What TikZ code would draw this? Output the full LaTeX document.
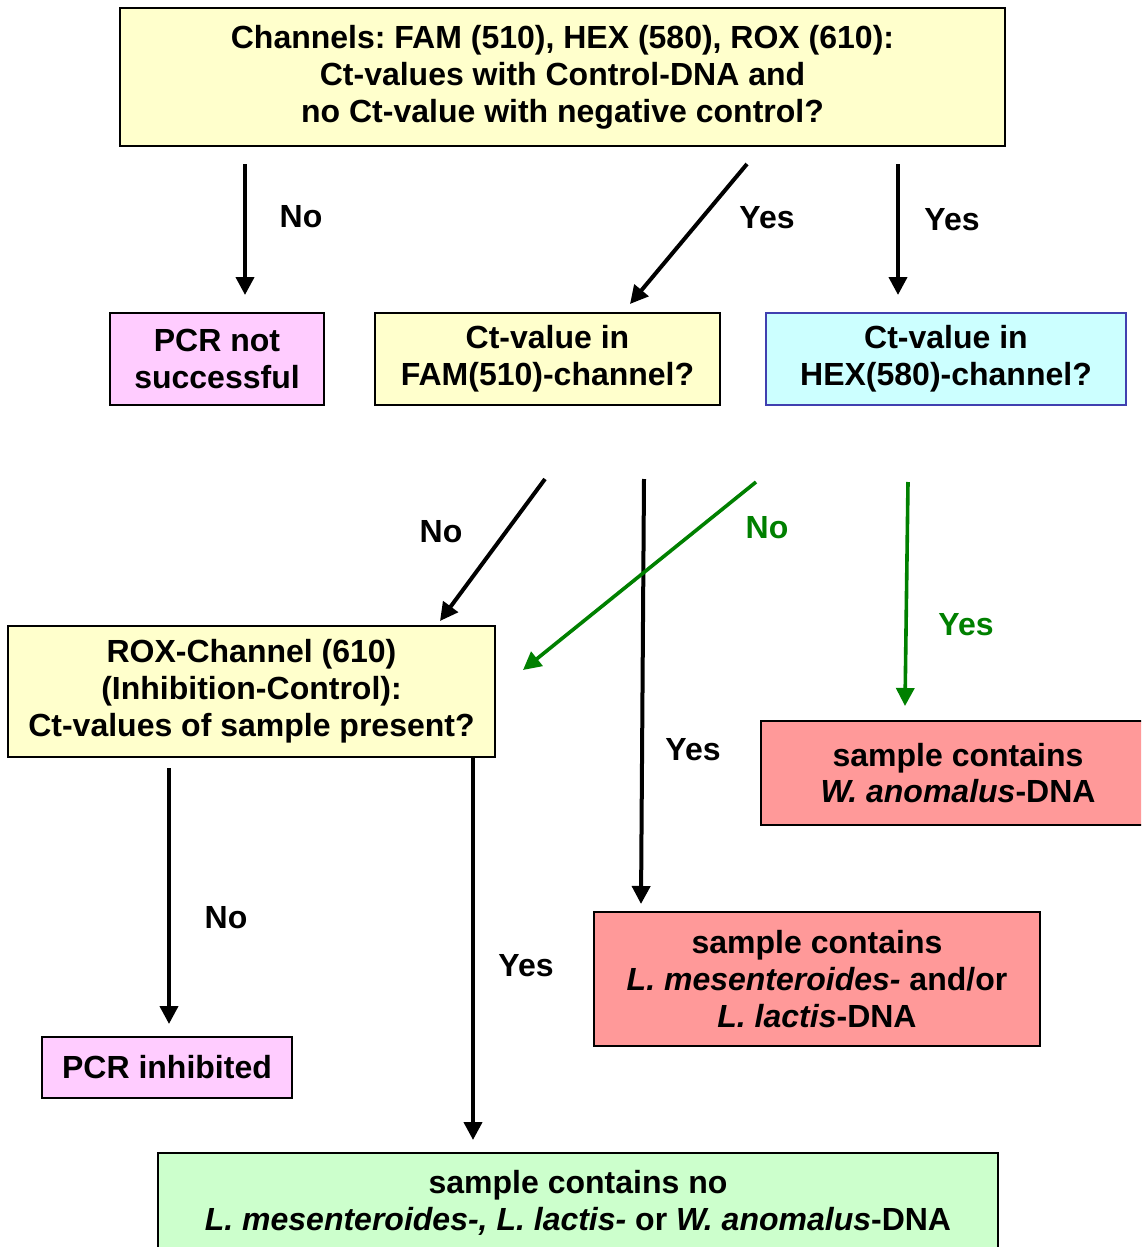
\documentclass[tikz,border=0pt]{standalone}
\usepackage{fontspec}
\setmainfont{Liberation Sans}
\usetikzlibrary{arrows.meta, calc}
\definecolor{paleyellow}{HTML}{FFFFCC}
\definecolor{palepink}{HTML}{FFCCFF}
\definecolor{palecyan}{HTML}{CCFFFF}
\definecolor{salmon}{HTML}{FF9999}
\definecolor{palegreen}{HTML}{CCFFCC}
\definecolor{darkgreen}{HTML}{008000}
\definecolor{hexblue}{HTML}{4040B0}
\frenchspacing

\begin{document}
\begin{tikzpicture}[x=0.5pt, y=-0.5pt,
  every node/.style={font=\fontsize{16pt}{18.4pt}\selectfont\bfseries},
  box/.style={draw, line width=1pt, align=center, inner sep=0pt},
  arr/.style={line width=2pt, -{Triangle[width=9pt,length=9pt]}},
  garr/.style={arr, draw=darkgreen, fill=darkgreen, line width=1.8pt},
  lbl/.style={inner sep=0pt}]
\useasboundingbox (0,0) rectangle (1141,1247);
\clip (0,0) rectangle (1141,1247);
\node[box, fill=paleyellow, minimum width=442.5pt, minimum height=69pt] (query) at (562.5,77) {Channels: FAM (510), HEX (580), ROX (610):\\Ct-values with Control-DNA and\\no Ct-value with negative control?};
\node[box, fill=palepink, minimum width=107pt, minimum height=46pt] (pcr) at (217,359) {PCR not\\successful};
\node[box, fill=paleyellow, minimum width=172.5pt, minimum height=46pt] (fam) at (547.5,359) {Ct-value in\\FAM(510)-channel?};
\node[box, draw=hexblue, fill=palecyan, minimum width=180pt, minimum height=46pt] (hex) at (946,359) {Ct-value in\\HEX(580)-channel?};
\node[box, fill=paleyellow, minimum width=243.5pt, minimum height=65.5pt] (rox) at (251.5,691.5) {ROX-Channel (610)\\(Inhibition-Control):\\Ct-values of sample present?};
\node[box, fill=salmon, minimum width=197pt, minimum height=52pt] (wano) at (958,773) {sample contains\\\textit{W. anomalus}-DNA};
\node[box, fill=salmon, minimum width=223pt, minimum height=67pt] (lmes) at (817,979) {sample contains\\\textit{L. mesenteroides-} and/or\\\textit{L. lactis}-DNA};
\node[box, fill=palepink, minimum width=125pt, minimum height=30.5pt] (inhib) at (167,1067.5) {PCR inhibited};
\node[box, fill=palegreen, minimum width=420pt, minimum height=49.5pt] (none) at (578,1202.5) {sample contains no\\\textit{L. mesenteroides-, L. lactis-} or \textit{W. anomalus}-DNA};

\draw[arr] ($(query.south)+(-317.5,17)$) -- ($(pcr.north)+(28,-17)$);
\draw[arr] ($(query.south)+(184.5,17)$) -- ($(fam.north)+(82.5,-8)$);
\draw[arr] ($(query.south)+(335.5,17)$) -- ($(hex.north)+(-48,-17)$);
\draw[arr] ($(fam.south)+(-2.5,73)$) -- ($(rox.north)+(188.5,-4)$);
\draw[arr] ($(fam.south)+(96.5,73)$) -- ($(lmes.north)+(-176,-7)$);
\draw[garr] ($(hex.south)+(-190,76)$) -- ($(rox.east)+(27,-21.5)$);
\draw[garr] ($(hex.south)+(-38,76)$) -- ($(wano.north)+(-53,-14)$);
\draw[arr] ($(rox.south)+(-82.5,10)$) -- ($(inhib.north)+(2,-12)$);
\draw[arr] ($(rox.south)+(221.5,0)$) -- ($(none.north)+(-105,-12)$);

\node[lbl] (no1) at (301,217) {No};
\node[lbl] (yes1) at (767,218) {Yes};
\node[lbl] (yes2) at (952,220) {Yes};
\node[lbl] (no2) at (441,532) {No};
\node[lbl] (yes3) at (693,750) {Yes};
\node[lbl, text=darkgreen] (no3) at (767,528) {No};
\node[lbl, text=darkgreen] (yes4) at (966,625) {Yes};
\node[lbl] (no4) at (226,918) {No};
\node[lbl] (yes5) at (526,966) {Yes};
\end{tikzpicture}
\end{document}
